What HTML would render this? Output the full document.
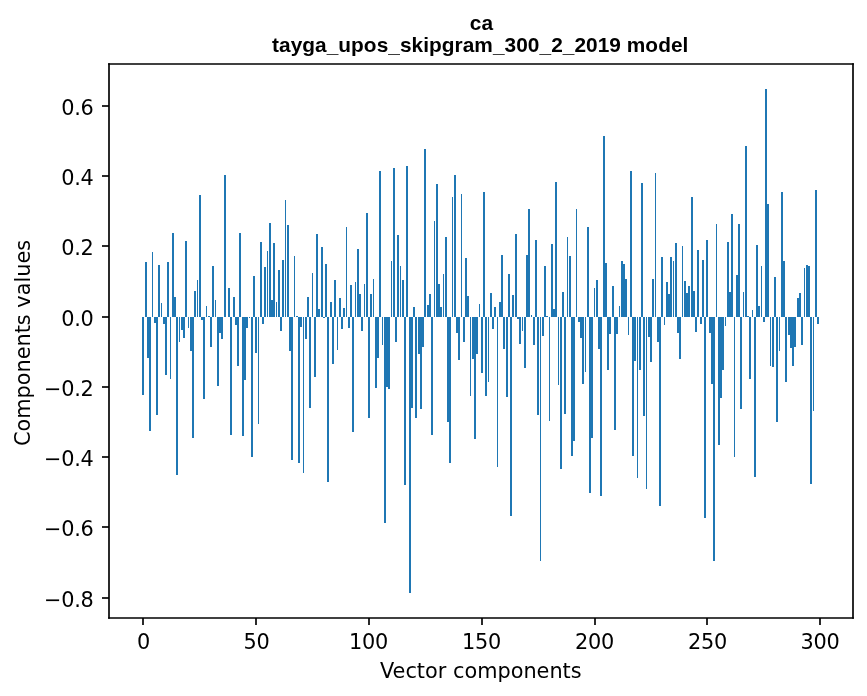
<!DOCTYPE html>
<html lang="en">
<head>
<meta charset="utf-8">
<title>ca - tayga_upos_skipgram_300_2_2019 model</title>
<style>
html,body{margin:0;padding:0;background:#fff;}
body{width:867px;height:696px;overflow:hidden;}
svg{display:block;}
.t{font-family:"DejaVu Sans","Liberation Sans",sans-serif;font-size:20.83px;fill:#000;}
.ttl{font-family:"Liberation Sans","DejaVu Sans",sans-serif;font-weight:bold;font-size:20.83px;fill:#000;}
.b{fill:#1f77b4;shape-rendering:crispEdges;}
.ax{stroke:#000;stroke-width:1.667;fill:none;}
</style>
</head>
<body>
<svg width="867" height="696" viewBox="0 0 867 696">
<rect x="0" y="0" width="867" height="696" fill="#ffffff"/>
<g class="b">
<rect x="142" y="317" width="2" height="78"/><rect x="145" y="262" width="2" height="55"/><rect x="147" y="317" width="2" height="41"/><rect x="149" y="317" width="2" height="114"/><rect x="152" y="252" width="1" height="65"/><rect x="154" y="317" width="2" height="6"/>
<rect x="156" y="317" width="2" height="98"/><rect x="158" y="265" width="2" height="52"/><rect x="161" y="303" width="1" height="14"/><rect x="163" y="317" width="2" height="7"/><rect x="165" y="317" width="2" height="58"/><rect x="167" y="262" width="2" height="55"/>
<rect x="170" y="317" width="1" height="62"/><rect x="172" y="233" width="2" height="84"/><rect x="174" y="297" width="2" height="20"/><rect x="176" y="317" width="2" height="158"/><rect x="179" y="317" width="1" height="25"/><rect x="181" y="317" width="2" height="13"/>
<rect x="183" y="317" width="2" height="21"/><rect x="185" y="241" width="2" height="76"/><rect x="188" y="317" width="1" height="11"/><rect x="190" y="317" width="2" height="34"/><rect x="192" y="317" width="2" height="121"/><rect x="194" y="291" width="2" height="26"/>
<rect x="197" y="280" width="1" height="37"/><rect x="199" y="195" width="2" height="122"/><rect x="201" y="317" width="2" height="3"/><rect x="203" y="317" width="2" height="82"/><rect x="206" y="306" width="1" height="11"/><rect x="208" y="316" width="2" height="1"/>
<rect x="210" y="317" width="2" height="30"/><rect x="212" y="266" width="2" height="51"/><rect x="215" y="300" width="1" height="17"/><rect x="217" y="317" width="2" height="69"/><rect x="219" y="317" width="2" height="16"/><rect x="221" y="317" width="2" height="22"/>
<rect x="224" y="175" width="2" height="142"/><rect x="228" y="288" width="2" height="29"/><rect x="230" y="317" width="2" height="118"/><rect x="233" y="297" width="2" height="20"/><rect x="235" y="317" width="2" height="8"/>
<rect x="237" y="317" width="2" height="49"/><rect x="239" y="233" width="2" height="84"/><rect x="242" y="317" width="2" height="119"/><rect x="244" y="317" width="2" height="63"/><rect x="246" y="317" width="2" height="11"/><rect x="249" y="317" width="1" height="1"/>
<rect x="251" y="317" width="2" height="140"/><rect x="253" y="276" width="2" height="41"/><rect x="255" y="317" width="2" height="36"/><rect x="258" y="317" width="1" height="107"/><rect x="260" y="242" width="2" height="75"/><rect x="262" y="317" width="2" height="7"/>
<rect x="264" y="267" width="2" height="50"/><rect x="267" y="251" width="1" height="66"/><rect x="269" y="223" width="2" height="94"/><rect x="271" y="300" width="2" height="17"/><rect x="273" y="243" width="2" height="74"/><rect x="276" y="302" width="1" height="15"/>
<rect x="278" y="270" width="2" height="47"/><rect x="280" y="317" width="2" height="14"/><rect x="282" y="260" width="2" height="57"/><rect x="285" y="200" width="1" height="117"/><rect x="287" y="225" width="2" height="92"/><rect x="289" y="317" width="2" height="34"/>
<rect x="291" y="317" width="2" height="143"/><rect x="294" y="256" width="1" height="61"/><rect x="296" y="316" width="2" height="1"/><rect x="298" y="317" width="2" height="146"/><rect x="300" y="317" width="2" height="10"/><rect x="303" y="317" width="1" height="156"/>
<rect x="305" y="317" width="2" height="22"/><rect x="307" y="297" width="2" height="20"/><rect x="309" y="317" width="2" height="91"/><rect x="312" y="273" width="1" height="44"/><rect x="314" y="317" width="2" height="60"/><rect x="316" y="234" width="2" height="83"/>
<rect x="318" y="309" width="2" height="8"/><rect x="321" y="247" width="2" height="70"/><rect x="323" y="317" width="2" height="1"/><rect x="325" y="264" width="2" height="53"/><rect x="327" y="317" width="2" height="165"/><rect x="330" y="302" width="2" height="15"/>
<rect x="332" y="317" width="2" height="47"/><rect x="334" y="280" width="2" height="37"/><rect x="337" y="317" width="1" height="33"/><rect x="339" y="298" width="2" height="19"/><rect x="341" y="317" width="2" height="12"/><rect x="343" y="308" width="2" height="9"/>
<rect x="346" y="227" width="1" height="90"/><rect x="348" y="317" width="2" height="11"/><rect x="350" y="285" width="2" height="32"/><rect x="352" y="317" width="2" height="115"/><rect x="355" y="282" width="1" height="35"/><rect x="357" y="249" width="2" height="68"/>
<rect x="359" y="294" width="2" height="23"/><rect x="361" y="317" width="2" height="14"/><rect x="364" y="284" width="1" height="33"/><rect x="366" y="213" width="2" height="104"/><rect x="368" y="317" width="2" height="101"/><rect x="370" y="294" width="2" height="23"/>
<rect x="373" y="279" width="1" height="38"/><rect x="375" y="317" width="2" height="71"/><rect x="377" y="317" width="2" height="41"/><rect x="379" y="171" width="2" height="146"/><rect x="382" y="317" width="1" height="28"/><rect x="384" y="317" width="2" height="206"/>
<rect x="386" y="317" width="2" height="70"/><rect x="388" y="317" width="2" height="72"/><rect x="391" y="261" width="1" height="56"/><rect x="393" y="168" width="2" height="149"/><rect x="395" y="317" width="2" height="25"/><rect x="397" y="235" width="2" height="82"/>
<rect x="400" y="266" width="1" height="51"/><rect x="402" y="280" width="2" height="37"/><rect x="404" y="317" width="2" height="168"/><rect x="406" y="166" width="2" height="151"/><rect x="409" y="317" width="2" height="276"/><rect x="411" y="317" width="2" height="91"/>
<rect x="413" y="307" width="2" height="10"/><rect x="415" y="317" width="2" height="101"/><rect x="418" y="317" width="2" height="37"/><rect x="420" y="317" width="2" height="92"/><rect x="422" y="317" width="2" height="30"/><rect x="424" y="149" width="2" height="168"/>
<rect x="427" y="305" width="2" height="12"/><rect x="429" y="294" width="2" height="23"/><rect x="431" y="317" width="2" height="118"/><rect x="434" y="221" width="1" height="96"/><rect x="436" y="184" width="2" height="133"/><rect x="438" y="284" width="2" height="33"/>
<rect x="440" y="307" width="2" height="10"/><rect x="443" y="274" width="1" height="43"/><rect x="445" y="237" width="2" height="80"/><rect x="447" y="317" width="2" height="105"/><rect x="449" y="317" width="2" height="146"/><rect x="452" y="197" width="1" height="120"/>
<rect x="454" y="175" width="2" height="142"/><rect x="456" y="317" width="2" height="16"/><rect x="458" y="317" width="2" height="43"/><rect x="461" y="194" width="1" height="123"/><rect x="463" y="317" width="2" height="25"/><rect x="465" y="258" width="2" height="59"/>
<rect x="467" y="296" width="2" height="21"/><rect x="470" y="317" width="1" height="79"/><rect x="472" y="317" width="2" height="42"/><rect x="474" y="317" width="2" height="122"/><rect x="476" y="317" width="2" height="37"/><rect x="479" y="304" width="1" height="13"/>
<rect x="481" y="317" width="2" height="56"/><rect x="483" y="192" width="2" height="125"/><rect x="485" y="317" width="2" height="79"/><rect x="488" y="317" width="1" height="65"/><rect x="490" y="293" width="2" height="24"/><rect x="492" y="317" width="2" height="12"/>
<rect x="494" y="307" width="2" height="10"/><rect x="497" y="317" width="1" height="150"/><rect x="499" y="302" width="2" height="15"/><rect x="501" y="255" width="2" height="62"/><rect x="503" y="317" width="2" height="32"/><rect x="506" y="317" width="2" height="80"/>
<rect x="508" y="274" width="2" height="43"/><rect x="510" y="317" width="2" height="199"/><rect x="512" y="295" width="2" height="22"/><rect x="515" y="234" width="2" height="83"/><rect x="517" y="317" width="2" height="2"/><rect x="519" y="317" width="2" height="27"/>
<rect x="522" y="317" width="1" height="14"/><rect x="524" y="317" width="2" height="51"/><rect x="526" y="255" width="2" height="62"/><rect x="528" y="209" width="2" height="108"/><rect x="531" y="315" width="1" height="2"/><rect x="533" y="317" width="2" height="28"/>
<rect x="535" y="240" width="2" height="77"/><rect x="537" y="317" width="2" height="98"/><rect x="540" y="317" width="1" height="244"/><rect x="542" y="317" width="2" height="19"/><rect x="544" y="266" width="2" height="51"/><rect x="546" y="316" width="2" height="1"/>
<rect x="549" y="317" width="1" height="104"/><rect x="551" y="244" width="2" height="73"/><rect x="553" y="309" width="2" height="8"/><rect x="555" y="182" width="2" height="135"/><rect x="558" y="317" width="1" height="68"/><rect x="560" y="317" width="2" height="152"/>
<rect x="562" y="292" width="2" height="25"/><rect x="564" y="317" width="2" height="97"/><rect x="567" y="237" width="1" height="80"/><rect x="569" y="256" width="2" height="61"/><rect x="571" y="317" width="2" height="139"/><rect x="573" y="317" width="2" height="124"/>
<rect x="576" y="209" width="1" height="108"/><rect x="578" y="317" width="2" height="5"/><rect x="580" y="317" width="2" height="21"/><rect x="582" y="317" width="2" height="67"/><rect x="585" y="317" width="1" height="55"/><rect x="587" y="227" width="2" height="90"/>
<rect x="589" y="317" width="2" height="176"/><rect x="591" y="317" width="2" height="121"/><rect x="594" y="288" width="1" height="29"/><rect x="596" y="280" width="2" height="37"/><rect x="598" y="317" width="2" height="32"/><rect x="600" y="317" width="2" height="179"/>
<rect x="603" y="136" width="2" height="181"/><rect x="605" y="263" width="2" height="54"/><rect x="607" y="317" width="2" height="53"/><rect x="609" y="317" width="2" height="17"/><rect x="612" y="286" width="2" height="31"/><rect x="614" y="317" width="2" height="113"/>
<rect x="616" y="317" width="2" height="17"/><rect x="619" y="306" width="1" height="11"/><rect x="621" y="261" width="2" height="56"/><rect x="623" y="264" width="2" height="53"/><rect x="625" y="279" width="2" height="38"/><rect x="628" y="317" width="1" height="18"/>
<rect x="630" y="171" width="2" height="146"/><rect x="632" y="317" width="2" height="139"/><rect x="634" y="317" width="2" height="44"/><rect x="637" y="317" width="1" height="161"/><rect x="639" y="317" width="2" height="53"/><rect x="641" y="183" width="2" height="134"/>
<rect x="643" y="317" width="2" height="99"/><rect x="646" y="317" width="1" height="172"/><rect x="648" y="317" width="2" height="20"/><rect x="650" y="317" width="2" height="45"/><rect x="652" y="279" width="2" height="38"/><rect x="655" y="173" width="1" height="144"/>
<rect x="657" y="317" width="2" height="25"/><rect x="659" y="317" width="2" height="189"/><rect x="661" y="257" width="2" height="60"/><rect x="664" y="317" width="1" height="8"/><rect x="666" y="282" width="2" height="35"/><rect x="668" y="294" width="2" height="23"/>
<rect x="670" y="257" width="2" height="60"/><rect x="673" y="261" width="1" height="56"/><rect x="675" y="243" width="2" height="74"/><rect x="677" y="317" width="2" height="16"/><rect x="679" y="317" width="2" height="42"/><rect x="682" y="246" width="1" height="71"/>
<rect x="684" y="281" width="2" height="36"/><rect x="686" y="293" width="2" height="24"/><rect x="688" y="286" width="2" height="31"/><rect x="691" y="197" width="2" height="120"/><rect x="693" y="291" width="2" height="26"/><rect x="695" y="317" width="2" height="15"/>
<rect x="697" y="250" width="2" height="67"/><rect x="700" y="317" width="2" height="7"/><rect x="702" y="260" width="2" height="57"/><rect x="704" y="317" width="2" height="201"/><rect x="706" y="240" width="2" height="77"/><rect x="709" y="317" width="2" height="16"/>
<rect x="711" y="317" width="2" height="67"/><rect x="713" y="317" width="2" height="244"/><rect x="716" y="224" width="1" height="93"/><rect x="718" y="317" width="2" height="128"/><rect x="720" y="317" width="2" height="81"/><rect x="722" y="317" width="2" height="53"/>
<rect x="725" y="317" width="1" height="9"/><rect x="727" y="242" width="2" height="75"/><rect x="729" y="292" width="2" height="25"/><rect x="731" y="214" width="2" height="103"/><rect x="734" y="317" width="1" height="140"/><rect x="736" y="275" width="2" height="42"/>
<rect x="738" y="224" width="2" height="93"/><rect x="740" y="317" width="2" height="92"/><rect x="743" y="292" width="1" height="25"/><rect x="745" y="146" width="2" height="171"/><rect x="747" y="316" width="2" height="1"/><rect x="749" y="317" width="2" height="62"/>
<rect x="752" y="310" width="1" height="7"/><rect x="754" y="317" width="2" height="160"/><rect x="756" y="245" width="2" height="72"/><rect x="758" y="306" width="2" height="11"/><rect x="761" y="266" width="1" height="51"/><rect x="763" y="317" width="2" height="5"/>
<rect x="765" y="89" width="2" height="228"/><rect x="767" y="204" width="2" height="113"/><rect x="770" y="317" width="1" height="49"/><rect x="772" y="317" width="2" height="50"/><rect x="774" y="277" width="2" height="40"/><rect x="776" y="317" width="2" height="105"/>
<rect x="779" y="317" width="1" height="34"/><rect x="781" y="192" width="2" height="125"/><rect x="783" y="261" width="2" height="56"/><rect x="785" y="317" width="2" height="65"/><rect x="788" y="317" width="2" height="18"/><rect x="790" y="317" width="2" height="31"/>
<rect x="792" y="317" width="2" height="49"/><rect x="794" y="317" width="2" height="30"/><rect x="797" y="298" width="2" height="19"/><rect x="799" y="293" width="2" height="24"/><rect x="801" y="317" width="2" height="28"/><rect x="804" y="268" width="1" height="49"/>
<rect x="806" y="265" width="2" height="52"/><rect x="808" y="266" width="2" height="51"/><rect x="810" y="317" width="2" height="167"/><rect x="813" y="317" width="1" height="94"/><rect x="815" y="190" width="2" height="127"/><rect x="817" y="317" width="2" height="7"/>

</g>
<g class="ax">
<line x1="143" y1="618" x2="143" y2="625.00"/><line x1="256" y1="618" x2="256" y2="625.00"/><line x1="369" y1="618" x2="369" y2="625.00"/><line x1="482" y1="618" x2="482" y2="625.00"/><line x1="595" y1="618" x2="595" y2="625.00"/><line x1="707" y1="618" x2="707" y2="625.00"/><line x1="820" y1="618" x2="820" y2="625.00"/>
<line x1="102.00" y1="106" x2="109" y2="106"/><line x1="102.00" y1="176" x2="109" y2="176"/><line x1="102.00" y1="246" x2="109" y2="246"/><line x1="102.00" y1="317" x2="109" y2="317"/><line x1="102.00" y1="387" x2="109" y2="387"/><line x1="102.00" y1="457" x2="109" y2="457"/><line x1="102.00" y1="527" x2="109" y2="527"/><line x1="102.00" y1="598" x2="109" y2="598"/>
<line x1="109" y1="63.17" x2="109" y2="618.83"/><line x1="853" y1="63.17" x2="853" y2="618.83"/><line x1="108.17" y1="64" x2="853.83" y2="64"/><line x1="108.17" y1="618" x2="853.83" y2="618"/>
</g>
<g class="t" text-anchor="middle" style="letter-spacing:-0.25px">
<text x="143.60" y="649.00">0</text><text x="256.60" y="649.00">50</text><text x="368.50" y="649.00">100</text><text x="481.40" y="649.00">150</text><text x="594.45" y="649.00">200</text><text x="707.60" y="649.00">250</text><text x="819.95" y="649.00">300</text>
</g>
<g class="t" text-anchor="end" style="letter-spacing:-0.25px">
<text x="93.60" y="115.00">0.6</text><text x="93.60" y="185.00">0.4</text><text x="93.60" y="255.00">0.2</text><text x="93.60" y="326.00">0.0</text><text x="93.60" y="396.00">−0.2</text><text x="93.60" y="466.00">−0.4</text><text x="93.60" y="536.00">−0.6</text><text x="93.60" y="607.00">−0.8</text>
</g>
<text class="t" text-anchor="middle" x="480.8" y="678.00">Vector components</text>
<text class="t" text-anchor="middle" transform="translate(29.50,343.0) rotate(-90)">Components values</text>
<text class="ttl" text-anchor="middle" x="481.4" y="30.00">ca</text>
<text class="ttl" text-anchor="middle" style="letter-spacing:0.053px" x="480.2" y="52.00">tayga_upos_skipgram_300_2_2019 model</text>
</svg>
</body>
</html>
